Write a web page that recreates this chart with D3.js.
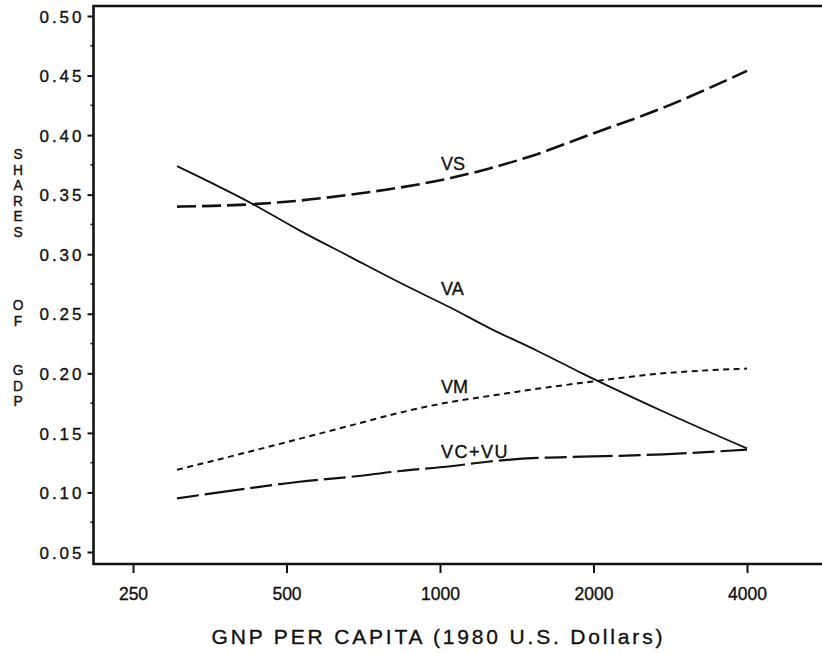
<!DOCTYPE html>
<html><head><meta charset="utf-8">
<script src="https://cdn.jsdelivr.net/npm/d3@7"></script>
<style>body{margin:0;background:#fff}svg{display:block}text{font-family:"Liberation Sans",Arial,sans-serif;fill:#111;stroke:#111;stroke-width:0.35px}</style>
</head><body><svg id="c" width="822" height="653"></svg>
<script>
const gnp = [305, 430, 530, 665, 835, 1050, 1250, 1550, 1900, 2740, 4000];
const VS  = [0.340, 0.342, 0.345, 0.350, 0.356, 0.364, 0.372, 0.384, 0.398, 0.423, 0.454];
const VA  = [0.374, 0.342, 0.320, 0.298, 0.276, 0.255, 0.238, 0.219, 0.200, 0.168, 0.137];
const VM  = [0.119, 0.135, 0.145, 0.156, 0.167, 0.176, 0.181, 0.187, 0.192, 0.200, 0.204];
const VCU = [0.095, 0.104, 0.109, 0.113, 0.118, 0.122, 0.126, 0.129, 0.130, 0.132, 0.136];
const xTicks = [250, 500, 1000, 2000, 4000];
const yTicks = [0.05, 0.10, 0.15, 0.20, 0.25, 0.30, 0.35, 0.40, 0.45, 0.50];
const seriesNames = ["VS", "VA", "VM", "VC+VU"];
const yTitleWords = ["SHARES", "OF", "GDP"];
const xTitle = "GNP PER CAPITA (1980 U.S. Dollars)";

(function(){
const svg = d3.select("#c");
const x = d3.scaleLog().base(2).domain([250, 4000]).range([133, 747]);
const y = d3.scaleLinear().domain([0.05, 0.50]).range([552, 16]);
const pLeft = 93.5, pRight = 830, pTop = 6, pBottom = 564;

// frame
svg.append("path").attr("d", `M${pRight},${pTop}H${pLeft}V${pBottom}H${pRight}`)
  .attr("fill","none").attr("stroke","#111").attr("stroke-width",2.6);

// y axis ticks
const yAxis = d3.axisLeft(y).tickValues(yTicks).tickSize(6).tickPadding(0).tickFormat(d3.format(".2f"));
const gy = svg.append("g").attr("transform",`translate(${pLeft},0)`).call(yAxis);
gy.select(".domain").remove();
gy.selectAll(".tick line").attr("stroke","#111").attr("stroke-width",2);
gy.selectAll(".tick text").remove();
gy.selectAll(".tick").append("text").attr("x",-12).attr("dy","0.36em")
  .attr("text-anchor","end").attr("font-size",17).attr("textLength",42).attr("lengthAdjust","spacing")
  .text(d => d3.format(".2f")(d));
// minor y ticks
const minor = d3.range(0, yTicks.length-1).map(i => (yTicks[i]+yTicks[i+1])/2);
svg.append("g").selectAll("line").data(minor).join("line")
  .attr("x1", pLeft-3).attr("x2", pLeft).attr("y1", d=>y(d)).attr("y2", d=>y(d))
  .attr("stroke","#111").attr("stroke-width",1.6);

// x axis
const xAxis = d3.axisBottom(x).tickValues(xTicks).tickSize(9).tickPadding(0).tickFormat(d3.format("d"));
const gx = svg.append("g").attr("transform",`translate(0,${pBottom})`).call(xAxis);
gx.select(".domain").remove();
gx.selectAll(".tick line").attr("stroke","#111").attr("stroke-width",2);
gx.selectAll(".tick text").attr("y",36).attr("dy",0).attr("font-size",17.5).attr("fill","#111");

// titles
svg.append("text").attr("x",437).attr("y",644).attr("text-anchor","middle")
  .attr("font-size",21).attr("textLength",451).attr("lengthAdjust","spacing").text(xTitle);
// stacked y title letters
const wordStart = [159, 310, 375];
const step = 15.6;
const letters = [];
yTitleWords.forEach((w, wi) => w.split("").forEach((ch, ci) => letters.push({ch, yy: wordStart[wi] + ci*step})));
svg.append("g").selectAll("text").data(letters).join("text")
  .attr("x",18).attr("y",d=>d.yy).attr("text-anchor","middle")
  .attr("font-size",13.8).attr("stroke-width",0.6).text(d=>d.ch);

// lines
const line = d3.line().x(d=>x(d[0])).y(d=>y(d[1])).curve(d3.curveMonotoneX);
const styles = [
  {v:VS, dash:"19,6", w:2.6},
  {v:VA, dash:null, w:1.8},
  {v:VM, dash:"6,4.5", w:2},
  {v:VCU, dash:"22,6,40,6", w:2.2}
];
styles.forEach(s => {
  svg.append("path").datum(gnp.map((g,i)=>[g, s.v[i]]))
    .attr("d", line).attr("fill","none").attr("stroke","#111")
    .attr("stroke-width", s.w).attr("stroke-dasharray", s.dash);
});

// series labels
const labelPos = [[441,170],[441,295],[441,393],[441,458]];
svg.append("g").selectAll("text").data(seriesNames).join("text")
  .attr("x",(d,i)=>labelPos[i][0]).attr("y",(d,i)=>labelPos[i][1])
  .attr("font-size",18).attr("letter-spacing",(d)=>d.length>2?1.5:0).text(d=>d);
})();
</script></body></html>
